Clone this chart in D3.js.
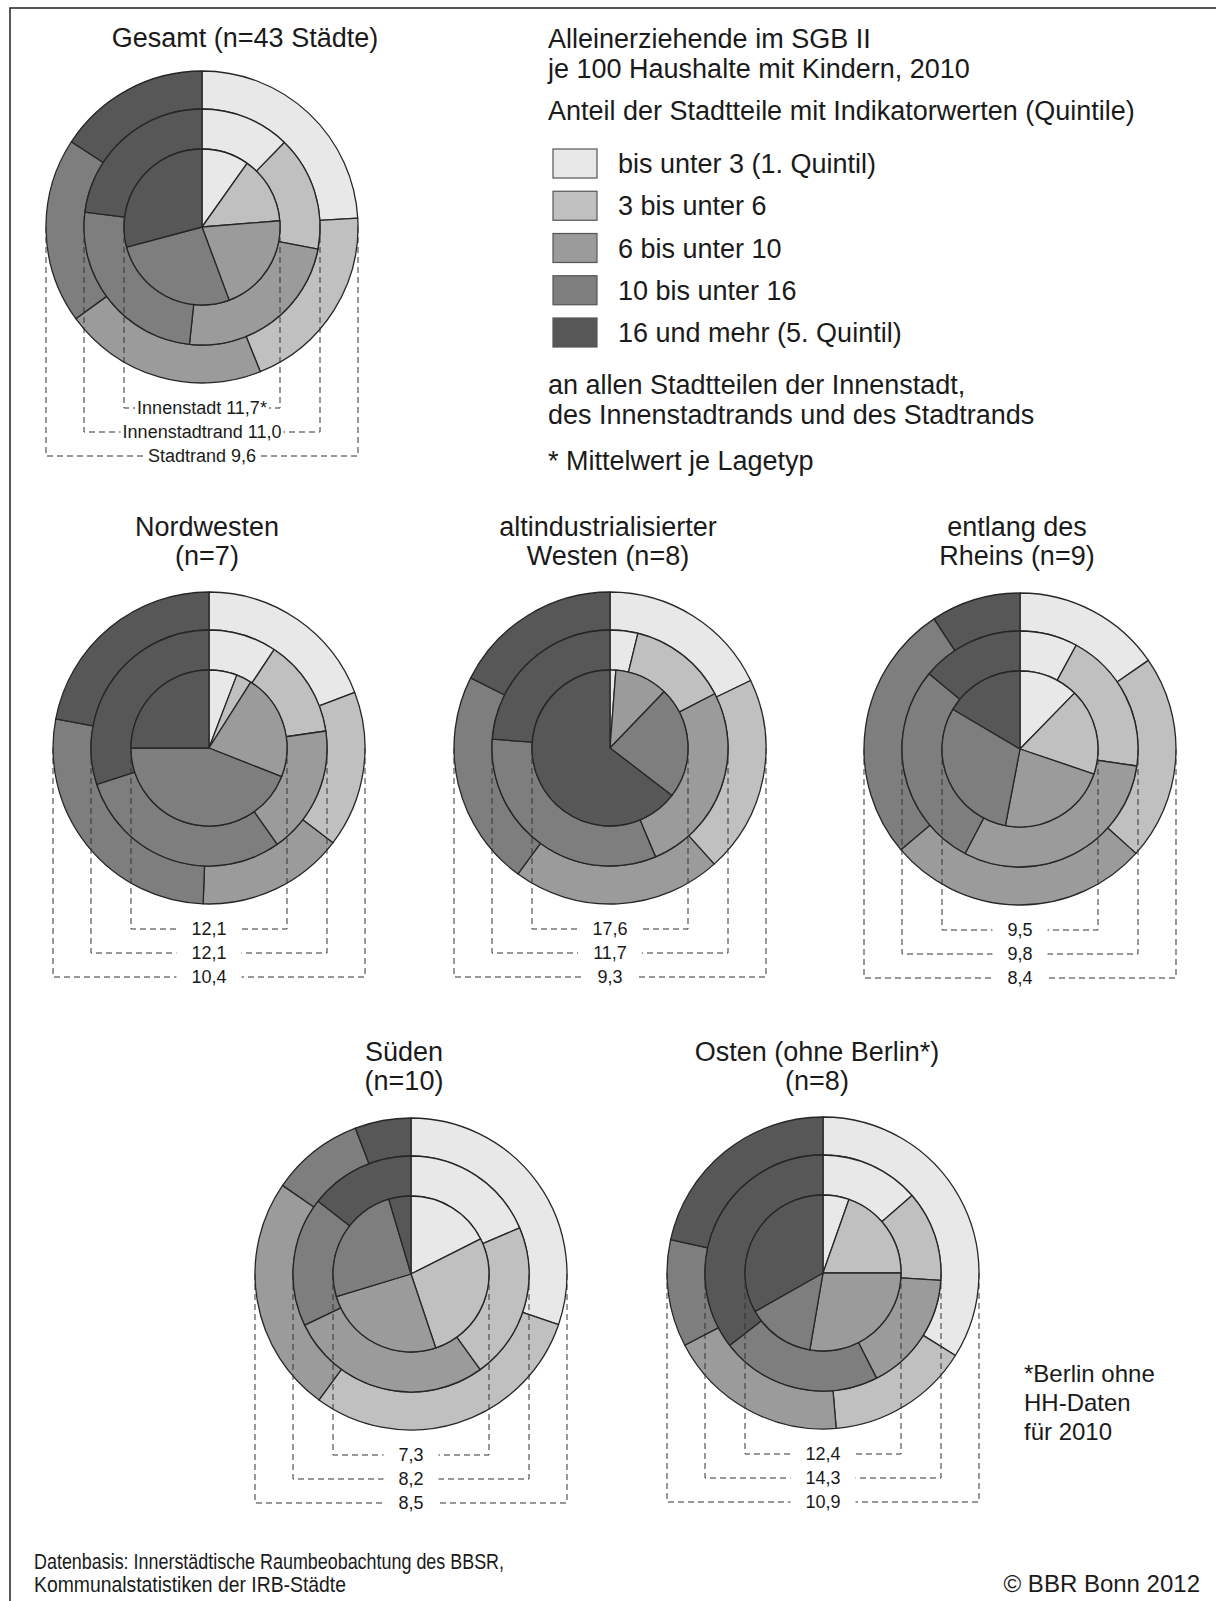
<!DOCTYPE html>
<html>
<head>
<meta charset="utf-8">
<script src="https://cdn.jsdelivr.net/npm/d3@7"></script>
<style>
  body { margin: 0; background: #fff; }
  text { font-family: "Liberation Sans", Arial, sans-serif; fill: #1a1a1a; }
</style>
</head>
<body>
<div id="chart"></div>
<script>
const width = 1216;
const height = 1601;

// quintile classes (legend)
const quintLabels = [
  "bis unter 3 (1. Quintil)",
  "3 bis unter 6",
  "6 bis unter 10",
  "10 bis unter 16",
  "16 und mehr (5. Quintil)"
];
const quintColors = ["#e8e8e8", "#c0c0c0", "#9b9b9b", "#7e7e7e", "#575757"];

// panel titles
const titles = [
  ["Gesamt (n=43 Städte)"],
  ["Nordwesten", "(n=7)"],
  ["altindustrialisierter", "Westen (n=8)"],
  ["entlang des", "Rheins (n=9)"],
  ["Süden", "(n=10)"],
  ["Osten (ohne Berlin*)", "(n=8)"]
];

// share of city districts per quintile, percent (inner pie / middle ring / outer ring)
const innenstadt = [
  [9.8, 13.9, 20.6, 26.5, 29.1],
  [5.8, 3.2, 22.0, 44.0, 25.0],
  [1.2, 0, 11.0, 23.2, 64.6],
  [12.3, 17.9, 22.8, 30.5, 16.5],
  [17.6, 27.3, 25.5, 25.1, 4.6],
  [5.4, 19.6, 27.7, 14.1, 33.2]
];
const innenstadtrand = [
  [12.3, 15.7, 23.7, 25.3, 23.0],
  [9.3, 13.4, 17.5, 29.8, 30.0],
  [3.8, 13.6, 26.3, 32.5, 23.8],
  [7.9, 19.4, 30.4, 28.3, 14.0],
  [18.6, 21.4, 27.8, 17.7, 14.4],
  [13.6, 12.4, 16.5, 22.0, 35.5]
];
const stadtrand = [
  [24.1, 19.8, 21.1, 19.2, 15.8],
  [19.2, 16.2, 15.2, 27.4, 22.0],
  [17.9, 20.5, 21.7, 22.4, 17.6],
  [15.4, 21.3, 27.2, 26.9, 9.3],
  [30.3, 29.8, 24.6, 9.6, 5.8],
  [33.9, 14.8, 18.7, 11.1, 21.6]
];

// mean value per location type
const ringNames = ["Innenstadt", "Innenstadtrand", "Stadtrand"];
const means = [
  ["11,7*", "11,0", "9,6"],
  ["12,1", "12,1", "10,4"],
  ["17,6", "11,7", "9,3"],
  ["9,5", "9,8", "8,4"],
  ["7,3", "8,2", "8,5"],
  ["12,4", "14,3", "10,9"]
];

// layout of the six panels
const panels = [
  { cx: 202, cy: 227, tx: 245, ty: 47, named: true },
  { cx: 209, cy: 748, tx: 207, ty: 536 },
  { cx: 610, cy: 748, tx: 608, ty: 536 },
  { cx: 1020, cy: 749, tx: 1017, ty: 536 },
  { cx: 411, cy: 1274, tx: 404, ty: 1061 },
  { cx: 823, cy: 1273, tx: 817, ty: 1061 }
];

const radii = [0, 78, 118, 156];
const bracketOff = [181, 205, 229];

const svg = d3.select("#chart")
  .append("svg")
  .attr("width", width)
  .attr("height", height)
  .style("background", "#fff");

// frame (only top and left edge are inside the picture)
svg.append("path")
  .attr("d", `M10,${height} L10,8 L${width},8`)
  .attr("fill", "none")
  .attr("stroke", "#222")
  .attr("stroke-width", 1.5);

const pie = d3.pie().sort(null).value(d => d);

panels.forEach((p, i) => {
  const g = svg.append("g").attr("transform", `translate(${p.cx},${p.cy})`);
  const rings = [innenstadt[i], innenstadtrand[i], stadtrand[i]];

  // outer ring first so the inner ones sit on top
  [2, 1, 0].forEach(k => {
    const arc = d3.arc().innerRadius(radii[k]).outerRadius(radii[k + 1]);
    g.selectAll(null)
      .data(pie(rings[k]).map((d, j) => ({ ...d, q: j })).filter(d => d.value > 0))
      .enter()
      .append("path")
      .attr("d", arc)
      .attr("fill", d => quintColors[d.q])
      .attr("stroke", "#262626")
      .attr("stroke-width", 1.3)
      .attr("stroke-linejoin", "round");
  });

  // dashed brackets with mean values
  [0, 1, 2].forEach(k => {
    const r = radii[k + 1];
    const by = bracketOff[k];
    const label = p.named ? `${ringNames[k]} ${means[i][k]}` : means[i][k];
    const t = g.append("text")
      .attr("x", 0)
      .attr("y", by + 6)
      .attr("text-anchor", "middle")
      .style("font-size", "18px")
      .text(label);
    const tw = t.node().getComputedTextLength();
    const pad = p.named ? 2 : 15;
    const dash = g.append("g")
      .attr("fill", "none")
      .attr("stroke", "#333")
      .attr("stroke-width", 1)
      .attr("stroke-dasharray", "6,4");
    dash.append("path").attr("d", `M${-r},0 L${-r},${by} L${-tw / 2 - pad},${by}`);
    dash.append("path").attr("d", `M${r},0 L${r},${by} L${tw / 2 + pad},${by}`);
  });

  // title
  const title = svg.append("text")
    .attr("x", p.tx)
    .attr("y", p.ty)
    .attr("text-anchor", "middle")
    .style("font-size", "27px");
  titles[i].forEach((line, j) => {
    title.append("tspan").attr("x", p.tx).attr("dy", j === 0 ? 0 : 29).text(line);
  });
});

// legend block
const lx = 548;
const head = [
  ["Alleinerziehende im SGB II", 48],
  ["je 100 Haushalte mit Kindern, 2010", 78],
  ["Anteil der Stadtteile mit Indikatorwerten (Quintile)", 120],
  ["an allen Stadtteilen der Innenstadt,", 394],
  ["des Innenstadtrands und des Stadtrands", 424],
  ["* Mittelwert je Lagetyp", 470]
];
head.forEach(([s, y]) => {
  svg.append("text").attr("x", lx).attr("y", y).style("font-size", "27px").text(s);
});

const legendY = d3.scalePoint().domain(quintLabels).range([163, 332]);
quintLabels.forEach((lab, i) => {
  const y = legendY(lab);
  svg.append("rect")
    .attr("x", 553)
    .attr("y", y - 14)
    .attr("width", 44)
    .attr("height", 29)
    .attr("fill", quintColors[i])
    .attr("stroke", "#555")
    .attr("stroke-width", 1.2);
  svg.append("text")
    .attr("x", 618)
    .attr("y", y + 10)
    .style("font-size", "27px")
    .text(lab);
});

// note on Berlin
["*Berlin ohne", "HH-Daten", "für 2010"].forEach((s, i) => {
  svg.append("text").attr("x", 1024).attr("y", 1382 + i * 29).style("font-size", "24px").text(s);
});

// source lines
svg.append("text").attr("x", 34).attr("y", 1569).style("font-size", "22px")
  .attr("textLength", 470).attr("lengthAdjust", "spacingAndGlyphs")
  .text("Datenbasis: Innerstädtische Raumbeobachtung des BBSR,");
svg.append("text").attr("x", 34).attr("y", 1592).style("font-size", "22px")
  .attr("textLength", 312).attr("lengthAdjust", "spacingAndGlyphs")
  .text("Kommunalstatistiken der IRB-Städte");
svg.append("text").attr("x", 1200).attr("y", 1592).attr("text-anchor", "end")
  .style("font-size", "24px").text("© BBR Bonn 2012");
</script>
</body>
</html>
